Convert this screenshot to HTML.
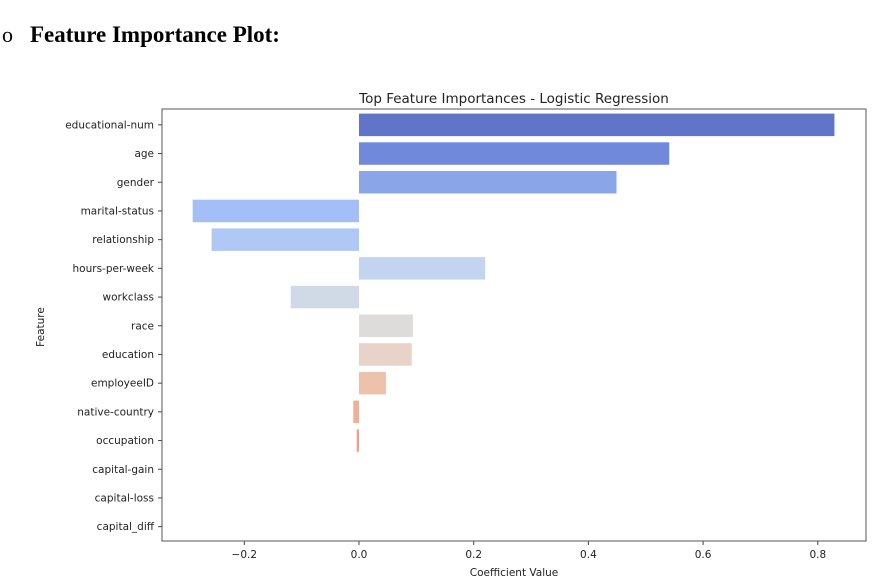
<!DOCTYPE html>
<html><head><meta charset="utf-8"><style>
body{margin:0;background:#fff;width:876px;height:584px;overflow:hidden}
svg{display:block}
</style></head><body>
<svg width="876" height="584" font-family="'DejaVu Sans','Liberation Sans',sans-serif">
<text x="2" y="42" font-family="'Liberation Serif',serif" font-size="22">o</text>
<text x="30" y="42" font-family="'Liberation Serif',serif" font-size="23" font-weight="bold">Feature Importance Plot:</text>
<text x="514" y="103" font-size="13.5" text-anchor="middle" fill="#222">Top Feature Importances - Logistic Regression</text>
<g id="plot"></g>
<rect x="162" y="109" width="704" height="432" fill="none" stroke="#555" stroke-width="1"/>
<text x="514" y="576" font-size="10.5" text-anchor="middle" fill="#222">Coefficient Value</text>
<text transform="translate(44,327) rotate(-90)" font-size="10.5" text-anchor="middle" fill="#222">Feature</text>
</svg>
<script>
const features=["educational-num","age","gender","marital-status","relationship","hours-per-week","workclass","race","education","employeeID","native-country","occupation","capital-gain","capital-loss","capital_diff"];
const values=[0.829,0.541,0.449,-0.290,-0.257,0.220,-0.119,0.094,0.092,0.047,-0.010,-0.004,0,0,0];
const colors=["#6074c8","#7089db","#8aa5e8","#a3bff5","#b0c8f5","#c3d4f0","#d0d9e6","#dddcdb","#e8d3c8","#ecc2ad","#efb09a","#f0a08a","#f29580","#f28a76","#f07f6c"];
const xTicks=[-0.2,0,0.2,0.4,0.6,0.8];
const xTickLabels=["\u22120.2","0.0","0.2","0.4","0.6","0.8"];
const x0=359, xs=573.5, y0=110.5, step=28.7, bh=22.5;
const X=v=>x0+v*xs, Y=i=>y0+step*(i+0.5);
const g=document.getElementById('plot'), NS='http://www.w3.org/2000/svg';
features.forEach((f,i)=>{
  const v=values[i];
  if(v!==0){
    const r=document.createElementNS(NS,'rect');
    r.setAttribute('x',Math.min(X(0),X(v)));r.setAttribute('y',Y(i)-bh/2);
    r.setAttribute('width',Math.max(Math.abs(X(v)-X(0)),1));r.setAttribute('height',bh);
    r.setAttribute('fill',colors[i]);
    
    
    g.appendChild(r);
  }
  const t=document.createElementNS(NS,'line');
  t.setAttribute('x1',158);t.setAttribute('x2',162);t.setAttribute('y1',Y(i));t.setAttribute('y2',Y(i));t.setAttribute('stroke','#444');
  
  
  g.appendChild(t);
  const l=document.createElementNS(NS,'text');
  l.setAttribute('x',154);l.setAttribute('y',Y(i)+3.5);l.setAttribute('text-anchor','end');l.setAttribute('font-size','10.5');l.setAttribute('fill','#222');
  l.textContent=f;
  
  
  g.appendChild(l);
});
xTicks.forEach((v,i)=>{
  const t=document.createElementNS(NS,'line');
  t.setAttribute('x1',X(v));t.setAttribute('x2',X(v));t.setAttribute('y1',541);t.setAttribute('y2',545);t.setAttribute('stroke','#444');
  
  
  g.appendChild(t);
  const l=document.createElementNS(NS,'text');
  l.setAttribute('x',X(v));l.setAttribute('y',558);l.setAttribute('text-anchor','middle');l.setAttribute('font-size','10.5');l.setAttribute('fill','#222');
  l.textContent=xTickLabels[i];
  
  
  g.appendChild(l);
});
</script>
</body></html>
